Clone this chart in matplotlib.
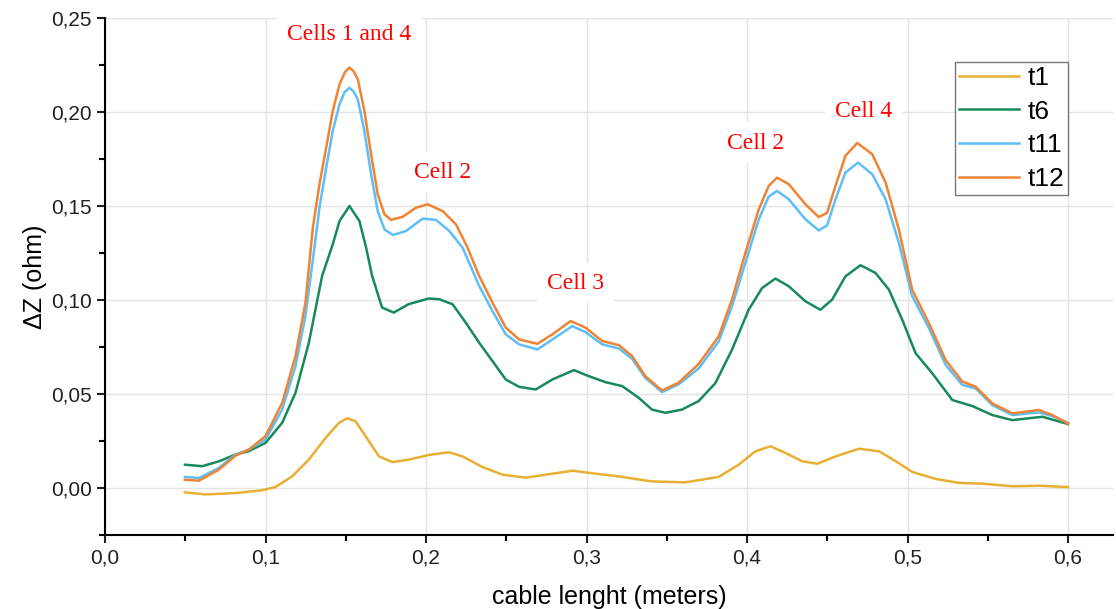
import matplotlib.pyplot as plt
from matplotlib.ticker import MultipleLocator, FuncFormatter

# t1
x_t1 = [0.0497, 0.0626, 0.0813, 0.0979, 0.1062, 0.1166, 0.127, 0.1374, 0.1457, 0.1509, 0.1561, 0.1624,
        0.1707, 0.179, 0.1894, 0.2019, 0.2143, 0.2227, 0.2351, 0.2476, 0.2622, 0.2746, 0.2913, 0.3058,
        0.3198, 0.3406, 0.3615, 0.3823, 0.3948, 0.4052, 0.4146, 0.424, 0.4344, 0.4438, 0.4552, 0.4698,
        0.4823, 0.4927, 0.5031, 0.5177, 0.5323, 0.5469, 0.5656, 0.5823, 0.6]
y_t1 = [-0.0023, -0.0034, -0.0027, -0.0012, 0.0005, 0.0062, 0.0151, 0.0266, 0.0346, 0.0371, 0.0355, 0.0275,
        0.0168, 0.0138, 0.0151, 0.0176, 0.019, 0.0168, 0.0112, 0.0071, 0.0055, 0.0071, 0.0092, 0.0076,
        0.0062, 0.0035, 0.003, 0.0059, 0.0124, 0.0195, 0.0222, 0.0186, 0.0142, 0.0129, 0.0168, 0.0209,
        0.0195, 0.0142, 0.0085, 0.0048, 0.0027, 0.0023, 0.0009, 0.0012, 0.0005]

# t6
x_t6 = [0.0498, 0.0606, 0.071, 0.0813, 0.0896, 0.1, 0.1104, 0.1187, 0.127, 0.1353, 0.1419, 0.1461,
        0.1523, 0.1585, 0.1627, 0.1664, 0.1726, 0.1799, 0.1892, 0.2017, 0.2083, 0.2166, 0.2248, 0.2331,
        0.2414, 0.2497, 0.258, 0.2683, 0.2787, 0.2921, 0.3014, 0.3118, 0.3222, 0.3325, 0.3408, 0.3491,
        0.3594, 0.3698, 0.3802, 0.3906, 0.401, 0.4094, 0.4177, 0.426, 0.4364, 0.4457, 0.453, 0.4613,
        0.4707, 0.48, 0.4884, 0.4967, 0.505, 0.5154, 0.5279, 0.5403, 0.5528, 0.5653, 0.584, 0.6]
y_t6 = [0.0124, 0.0116, 0.0142, 0.0178, 0.0196, 0.024, 0.0347, 0.0507, 0.0773, 0.1129, 0.1296, 0.142,
        0.15, 0.142, 0.1278, 0.1129, 0.096, 0.0933, 0.0978, 0.1008, 0.1004, 0.0977, 0.0879, 0.0773,
        0.0675, 0.0577, 0.0538, 0.0524, 0.0577, 0.0627, 0.0595, 0.0563, 0.0542, 0.048, 0.0417, 0.04,
        0.0417, 0.0462, 0.0557, 0.0735, 0.0948, 0.1064, 0.1114, 0.1073, 0.0993, 0.0948, 0.1002, 0.1126,
        0.1185, 0.1144, 0.1055, 0.0895, 0.0717, 0.061, 0.0468, 0.0436, 0.0388, 0.0361, 0.0379, 0.034]

# t11
x_t11 = [0.0498, 0.0585, 0.071, 0.0813, 0.0896, 0.1, 0.1104, 0.1187, 0.1249, 0.1305, 0.1336, 0.1378,
         0.1419, 0.1461, 0.1492, 0.1523, 0.155, 0.1575, 0.1616, 0.1658, 0.1699, 0.1741, 0.1793, 0.1876,
         0.1979, 0.2062, 0.2145, 0.2228, 0.2331, 0.2414, 0.2497, 0.258, 0.2694, 0.2787, 0.2911, 0.2994,
         0.3097, 0.3201, 0.3284, 0.3366, 0.347, 0.3573, 0.3699, 0.3823, 0.3906, 0.399, 0.4073, 0.4135,
         0.4187, 0.426, 0.4364, 0.4447, 0.4499, 0.4551, 0.4613, 0.4692, 0.478, 0.4863, 0.4946, 0.5029,
         0.5133, 0.5237, 0.5341, 0.5424, 0.5528, 0.5653, 0.5819, 0.5902, 0.6]
y_t11 = [0.0059, 0.0053, 0.0107, 0.0178, 0.0204, 0.0258, 0.0418, 0.0649, 0.0916, 0.1278, 0.1491, 0.1704,
         0.1899, 0.2041, 0.2105, 0.2129, 0.2108, 0.2067, 0.1899, 0.1668, 0.1473, 0.1376, 0.1346, 0.1367,
         0.1433, 0.1426, 0.1367, 0.1278, 0.1075, 0.0941, 0.0817, 0.0764, 0.0737, 0.079, 0.0861, 0.0829,
         0.0764, 0.0742, 0.0687, 0.0586, 0.051, 0.0551, 0.0636, 0.0779, 0.0966, 0.1198, 0.1429, 0.155,
         0.158, 0.1536, 0.1429, 0.137, 0.1397, 0.1536, 0.1678, 0.1731, 0.1669, 0.1536, 0.1304, 0.102,
         0.0851, 0.0655, 0.0548, 0.053, 0.0441, 0.0388, 0.0402, 0.0383, 0.0347]

# t12
x_t12 = [0.0498, 0.0585, 0.071, 0.0813, 0.0896, 0.1, 0.1104, 0.1187, 0.1249, 0.1295, 0.1336, 0.1378,
         0.1419, 0.1461, 0.1495, 0.1523, 0.155, 0.1575, 0.1616, 0.1658, 0.1699, 0.1741, 0.1782, 0.1855,
         0.1938, 0.201, 0.2104, 0.2187, 0.2259, 0.2331, 0.2414, 0.2497, 0.258, 0.2694, 0.2787, 0.2901,
         0.2994, 0.3097, 0.3201, 0.3284, 0.3366, 0.347, 0.3573, 0.3699, 0.3823, 0.3906, 0.399, 0.4073,
         0.4135, 0.4187, 0.426, 0.4364, 0.4447, 0.4499, 0.4551, 0.4613, 0.4686, 0.478, 0.4863, 0.4946,
         0.5029, 0.5133, 0.5237, 0.5341, 0.5424, 0.5528, 0.5653, 0.5819, 0.5902, 0.6]
y_t12 = [0.0044, 0.0039, 0.0098, 0.0172, 0.0204, 0.0276, 0.0453, 0.0702, 0.0987, 0.1385, 0.1615, 0.181,
         0.2005, 0.2147, 0.2212, 0.2237, 0.2215, 0.2174, 0.2005, 0.1775, 0.1562, 0.1456, 0.1426, 0.1443,
         0.1491, 0.1509, 0.1473, 0.1402, 0.1278, 0.1128, 0.0986, 0.0853, 0.079, 0.0767, 0.0817, 0.0888,
         0.0853, 0.0782, 0.076, 0.0702, 0.0595, 0.0519, 0.056, 0.066, 0.0806, 0.1002, 0.1251, 0.1482,
         0.1607, 0.1651, 0.1616, 0.1509, 0.1441, 0.1464, 0.1607, 0.1767, 0.1835, 0.1776, 0.1625, 0.1375,
         0.1055, 0.0877, 0.0681, 0.0566, 0.0539, 0.045, 0.0397, 0.0415, 0.0388, 0.0343]

# подписи пиков
notes = ['Cells 1 and 4', 'Cell 2', 'Cell 3', 'Cell 2', 'Cell 4']
notes_x = [0.1522, 0.2106, 0.2932, 0.4056, 0.4727]
notes_y = [0.241, 0.168, 0.109, 0.1835, 0.2005]

plt.rcParams['font.family'] = ['Liberation Sans', 'DejaVu Sans']

fig = plt.figure(figsize=(11.16, 6.09), dpi=100)
ax = fig.add_axes([105 / 1116, 74 / 609, 1008 / 1116, 517 / 609])

ax.plot(x_t1, y_t1, color='#E8B032', lw=1.8, label='t1')
ax.plot(x_t6, y_t6, color='#178A5C', lw=1.8, label='t6')
ax.plot(x_t11, y_t11, color='#5EBEF8', lw=1.8, label='t11')
ax.plot(x_t12, y_t12, color='#EE8434', lw=1.8, label='t12')

for t, tx, ty in zip(notes, notes_x, notes_y):
    ax.text(tx, ty, t, color='red', fontsize=17, family='Liberation Serif', ha='center', va='center',
            bbox=dict(facecolor='white', edgecolor='none', pad=7), zorder=3)

ax.set_xlim(0, 0.628)
ax.set_ylim(-0.025, 0.25)
ax.xaxis.set_major_locator(MultipleLocator(0.1))
ax.xaxis.set_minor_locator(MultipleLocator(0.05))
ax.yaxis.set_major_locator(MultipleLocator(0.05))
ax.yaxis.set_minor_locator(MultipleLocator(0.025))
ax.xaxis.set_major_formatter(FuncFormatter(lambda v, p: f'{v:.1f}'.replace('.', ',')))
ax.yaxis.set_major_formatter(FuncFormatter(lambda v, p: f'{v:.2f}'.replace('.', ',')))

ax.spines['top'].set_visible(False)
ax.spines['right'].set_visible(False)
ax.spines['left'].set_linewidth(1.5)
ax.spines['bottom'].set_linewidth(1.5)
ax.tick_params(which='major', direction='out', length=6, width=1.5, labelsize=15, colors='#222222')
ax.tick_params(which='minor', direction='out', length=4, width=1.5)
ax.grid(True, which='major', color='#e4e4e4', lw=1)
ax.set_axisbelow(True)

ax.set_xlabel('cable lenght (meters)', fontsize=18, labelpad=13)
ax.set_ylabel('ΔZ (ohm)', fontsize=18, labelpad=3)

leg = ax.legend(loc='upper right', bbox_to_anchor=(0.9554, 0.915), fontsize=19, fancybox=False,
                framealpha=1, edgecolor='#777777', handlelength=2.3, handletextpad=0.3,
                labelspacing=0.37, borderpad=0.15, borderaxespad=0)
leg.get_frame().set_linewidth(1)

plt.savefig('out.png')
